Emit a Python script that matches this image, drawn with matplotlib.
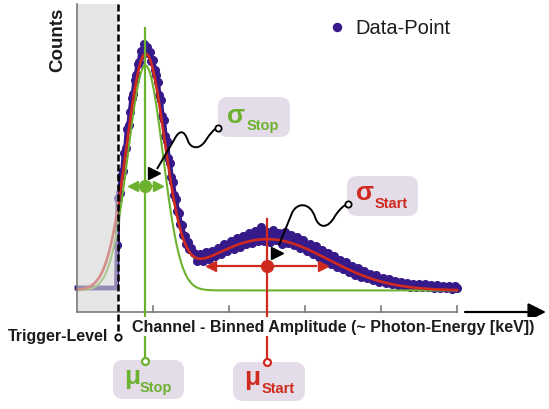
import numpy as np
import matplotlib.pyplot as plt
from matplotlib.patches import FancyBboxPatch, Rectangle, PathPatch
from matplotlib.path import Path

plt.rcParams['font.family'] = ['Liberation Sans', 'DejaVu Sans']

PURPLE = '#371a8a'
RED = '#cf2a1d'
GREEN = '#6cb22e'
BOX = '#e5dcea'
AXIS = '#7a7a7a'
INK = '#1c1c1c'

# measured spectrum (channel, counts)
below_x = [0, 10, 20, 30, 40, 50, 52]
below_y = [80, 80, 80, 80, 80, 80, 80]
peak_x = [53] + list(range(54, 151, 2))
peak_y = [225,
          380, 398, 452, 470, 530, 548, 610, 622, 668, 712,
          728, 775, 790, 828, 835, 870, 858, 895, 872, 885,
          862, 866, 838, 840, 808, 790, 768, 722, 708, 655,
          640, 588, 570, 515, 498, 450, 432, 390, 378, 338,
          330, 292, 290, 258, 255, 228, 232, 210, 214]
tail_x = list(range(154, 499, 4)) + [500]
tail_y = [196, 170, 192, 171, 199, 178, 205, 186, 214, 193,
          228, 203, 236, 210, 248, 218, 255, 226, 262, 230,
          270, 236, 282, 238, 268, 232, 275, 240, 263, 226,
          268, 230, 258, 222, 250, 212, 240, 205, 228, 192,
          220, 182, 208, 172, 198, 160, 186, 150, 174, 142,
          166, 134, 155, 125, 146, 118, 138, 112, 128, 106,
          122, 100, 115, 96, 110, 92, 104, 90, 100, 86,
          97, 85, 95, 84, 93, 83, 92, 82, 90, 81,
          89, 80, 88, 79, 87, 78, 86, 80]

# fit parameters
baseline = 72
mu_stop, sigma_stop, amp_stop = 90, 25, 765        # red (total fit)
sigma_stop_g, amp_stop_g = 23, 750                 # green (stop peak only)
mu_start, sigma_start, amp_start = 250, 80, 171
trigger = 54
x_ticks = [100, 200, 300, 400, 500]


# pixel frame of the 549x410 picture -> data units
def px2x(px):
    return (px - 77) / 0.76


def px2y(py):
    return (313 - py) / 0.3


def gauss(x, a, mu, s):
    return a * np.exp(-0.5 * ((x - mu) / s) ** 2)


fig = plt.figure(figsize=(5.49, 4.10), dpi=100)
ax = fig.add_axes([0, 0, 1, 1])
ax.set_xlim(px2x(0), px2x(549))
ax.set_ylim(px2y(410), px2y(0))
ax.axis('off')
top = px2y(5)

# data + fits
ax.plot(below_x + peak_x[:1], below_y + peak_y[:1], color=PURPLE, lw=3.5, zorder=2)
ax.plot(peak_x + tail_x, peak_y + tail_y, color=PURPLE, lw=3.5, marker='o', ms=5.5, zorder=2)

fit_x = np.linspace(0, 500, 1001)
green_fit = baseline + gauss(fit_x, amp_stop_g, mu_stop, sigma_stop_g)
red_fit = (baseline + gauss(fit_x, amp_stop, mu_stop, sigma_stop)
           + gauss(fit_x, amp_start, mu_start, sigma_start))
ax.plot(fit_x, green_fit, color=GREEN, lw=1.5, zorder=3)
ax.plot(fit_x, red_fit, color=RED, lw=1.9, zorder=4)

# below-trigger region
ax.add_patch(Rectangle((0, 0), trigger, top, fc='#d6d6d6', ec='none', alpha=0.6, zorder=5))

# axes
ax.plot([0, 0], [0, top], color=AXIS, lw=1.2, zorder=6)
ax.plot([0, 500], [0, 0], color=AXIS, lw=1.2, zorder=6)
for t in x_ticks:
    ax.plot([t, t], [0, px2y(307)], color=AXIS, lw=1.2, zorder=6)
ax.annotate('', xy=(px2x(546), 0), xytext=(px2x(465), 0),
            arrowprops=dict(arrowstyle='-|>,head_length=0.9,head_width=0.45',
                            color='black', lw=1.6, mutation_scale=12,
                            shrinkA=0, shrinkB=0))

# trigger level
ax.plot([trigger, trigger], [top, px2y(333)], color='black', lw=1.8,
        ls=(0, (2.8, 1.2)), zorder=7)
ax.plot(trigger, px2y(337.5), 'o', ms=4.5, mfc='white', mec='black', mew=1.3, zorder=11)

# mu markers
ax.plot([mu_stop, mu_stop], [px2y(29), px2y(358)], color=GREEN, lw=1.6, zorder=7)
ax.plot([mu_start, mu_start], [px2y(220), px2y(359)], color=RED, lw=1.6, zorder=7)
ax.plot(mu_stop, px2y(361.5), 'o', ms=5, mfc='white', mec=GREEN, mew=1.6, zorder=11)
ax.plot(mu_start, px2y(362.5), 'o', ms=5, mfc='white', mec=RED, mew=1.6, zorder=11)

# sigma markers
head = 6.4
yg = px2y(186.5)
ax.plot([mu_stop - sigma_stop_g + head, mu_stop + sigma_stop_g - head], [yg, yg],
        color=GREEN, lw=1.6, zorder=8)
ax.plot(mu_stop - sigma_stop_g + head, yg, '<', ms=7.5, color=GREEN, zorder=8)
ax.plot(mu_stop + sigma_stop_g - head, yg, '>', ms=7.5, color=GREEN, zorder=8)
ax.plot(mu_stop, yg, 'o', ms=8.5, color=GREEN, zorder=8)

yr = px2y(267)
ax.plot([mu_start - sigma_start + 16, mu_start + sigma_start - 16], [yr, yr],
        color=RED, lw=1.6, zorder=8)
ax.plot(mu_start - sigma_start + head, yr, '<', ms=7.5, color=RED, zorder=8)
ax.plot(mu_start + sigma_start - head, yr, '>', ms=7.5, color=RED, zorder=8)
ax.plot(mu_start, yr, 'o', ms=8.5, color=RED, zorder=8)

# wavy pointers to the sigma tags
C4, LT, MV = Path.CURVE4, Path.LINETO, Path.MOVETO
pointers = [
    ([(157, 170), (174, 141), (179, 131), (184, 130), (188, 142), (191, 150), (200, 151),
      (206, 141), (210, 135), (214, 130), (217, 129)], (154, 174), (218, 129)),
    ([(279, 246), (292, 214), (297, 203), (310, 203), (315, 218), (319, 230), (328, 230),
      (335, 217), (339, 211), (343, 207), (347, 205)], (277, 254), (348, 205)),
]
codes = [MV, LT] + [C4] * 9
for verts, tri, end in pointers:
    path = Path([(px2x(a), px2y(b)) for a, b in verts], codes)
    ax.add_patch(PathPatch(path, fc='none', ec='black', lw=1.4, zorder=10))
    ax.plot(px2x(tri[0]), px2y(tri[1]), '>', ms=8, color='black', zorder=10)
    ax.plot(px2x(end[0]), px2y(end[1]), 'o', ms=4.5, mfc='white', mec='black', mew=1.3, zorder=12)

# tags: box (left, top, w, h), symbol origin, subscript origin (pixels)
tags = [
    ((113, 361, 71, 39), 'μ', (124, 384), 'Stop', (140, 392), GREEN),
    ((233, 363, 72, 39), 'μ', (244, 385), 'Start', (262, 393), RED),
    ((218, 98, 72, 40), 'σ', (227, 123), 'Stop', (247, 130), GREEN),
    ((347, 177, 71, 40), 'σ', (356, 200), 'Start', (375, 208), RED),
]
for (bx, by, bw, bh), sym, sp, sub, sbp, col in tags:
    ax.add_patch(FancyBboxPatch((px2x(bx), px2y(by + bh)), bw / 0.76, bh / 0.3,
                                boxstyle='round,pad=0,rounding_size=13',
                                mutation_aspect=0.76 / 0.3, fc=BOX, ec='none', zorder=9))
    ax.text(px2x(sp[0]), px2y(sp[1]), sym, color=col, fontsize=19, fontweight='bold',
            ha='left', va='baseline', zorder=12)
    ax.text(px2x(sbp[0]), px2y(sbp[1]), sub, color=col, fontsize=10.5, fontweight='bold',
            ha='left', va='baseline', zorder=12)

# labels
ax.text(px2x(132), px2y(327.5), 'Channel - Binned Amplitude (~ Photon-Energy [keV])',
        fontsize=11.5, fontweight='bold', color=INK, ha='left', va='center',
        bbox=dict(fc='white', ec='none', pad=1.5), zorder=8)
ax.text(px2x(108), px2y(337), 'Trigger-Level', fontsize=11.5, fontweight='bold',
        color=INK, ha='right', va='center', zorder=8)
ax.text(px2x(57.5), px2y(40), 'Counts', rotation=90, fontsize=13.5, fontweight='bold',
        color=INK, ha='center', va='center')
ax.plot(px2x(337), px2y(28), 'o', ms=5.8, color=PURPLE)
ax.text(px2x(355), px2y(28), 'Data-Point', fontsize=14.5, color=INK, ha='left', va='center')

fig.savefig('out.png', dpi=100)
